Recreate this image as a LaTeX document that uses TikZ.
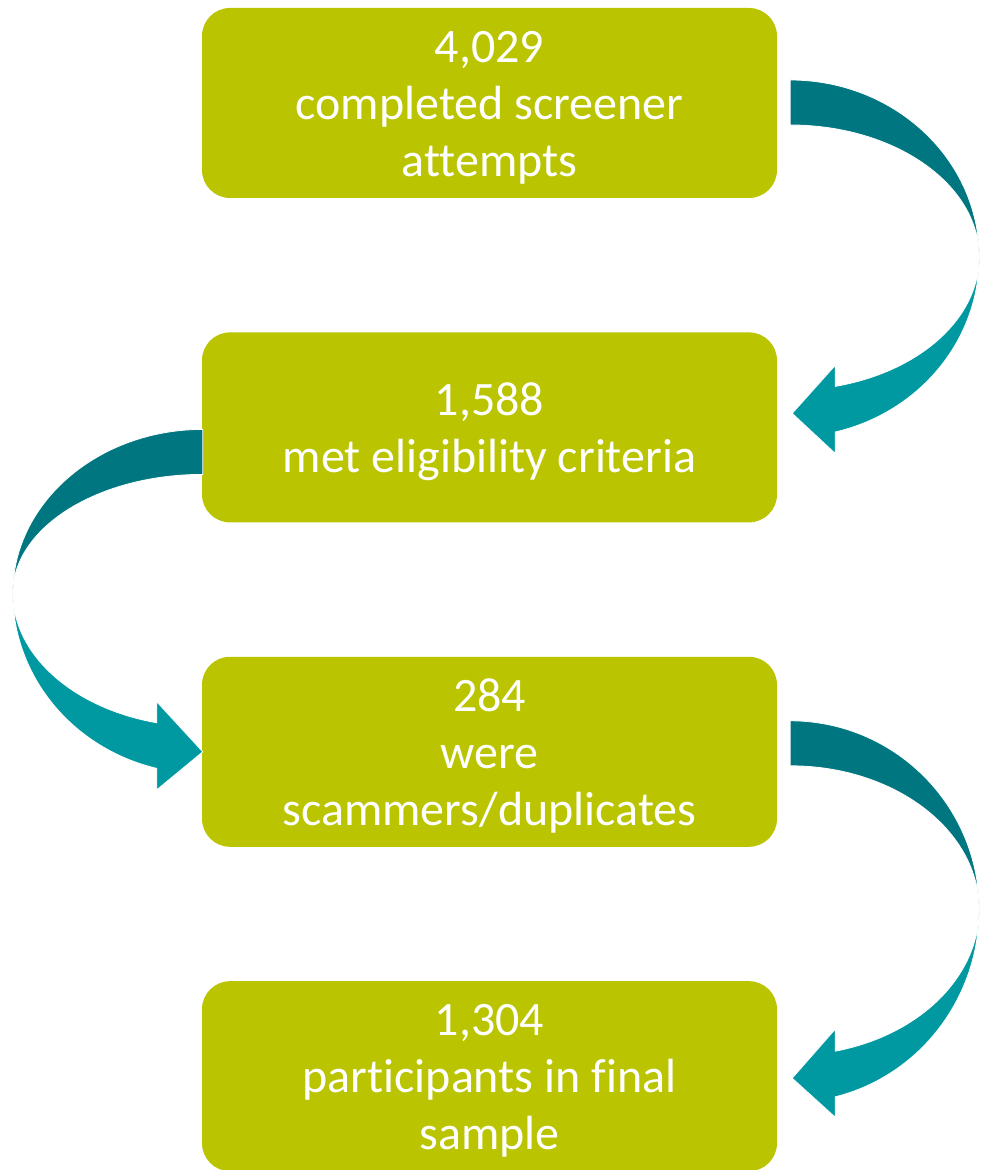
\documentclass[tikz,border=0pt]{standalone}
\usepackage{fontspec}
\setmainfont[Ligatures=NoCommon]{Carlito}
\usepackage{tikz}
\usetikzlibrary{positioning,calc}
\definecolor{boxolive}{RGB}{186,196,0}
\definecolor{tealdark}{RGB}{0,119,128}
\definecolor{teallight}{RGB}{0,153,161}
\tikzset{
  countbox/.style={rectangle,rounded corners=28pt,fill=boxolive,text=white,align=center,
    minimum width=575pt,minimum height=190pt,inner sep=0pt,font=\fontsize{48}{57}\selectfont},
  upperarr/.style={fill=tealdark,draw=white,line width=0.8pt},
  lowerarr/.style={fill=teallight,draw=white,line width=0.8pt}
}
\newcommand{\topgap}{\rule{0pt}{41pt}}

\begin{document}
\begin{tikzpicture}[node distance=134pt]
  \useasboundingbox (0,0) rectangle (982pt,1170pt);
  \node[countbox] (b1) at (489.5pt,1067pt) {\topgap 4,029\\completed screener\\attempts};
  \node[countbox,below=of b1] (b2) {\topgap 1,588\\met eligibility criteria};
  \node[countbox,below=of b2] (b3) {\topgap 284\\were\\scammers/duplicates};
  \node[countbox,below=of b3] (b4) {\topgap 1,304\\participants in final\\sample};
  % b1 -> b2
  \filldraw[upperarr] ($(b1.east)+(13pt,23pt)$) arc[start angle=90,end angle=0,x radius=189pt,y radius=177pt]
    arc[start angle=0,end angle=90,x radius=189pt,y radius=132pt] -- cycle;
  \filldraw[lowerarr] ($(b2.east)+(58pt,41pt)$) arc[start angle=-76.2,end angle=0,x radius=189pt,y radius=133pt]
    arc[start angle=0,end angle=-76.2,x radius=189pt,y radius=180pt] -- ($(b2.east)+(58pt,-26pt)$)
    -- ($(b2.east)+(15pt,14pt)$) -- ($(b2.east)+(58pt,62pt)$) -- cycle;
  % b2 -> b3
  \filldraw[upperarr] ($(b2.west)+(1pt,-2pt)$) arc[start angle=90,end angle=180,x radius=190pt,y radius=164pt]
    arc[start angle=180,end angle=90,x radius=190pt,y radius=119pt] -- cycle;
  \filldraw[lowerarr] ($(b3.west)+(-45pt,29pt)$) arc[start angle=256,end angle=180,x radius=190pt,y radius=134pt]
    arc[start angle=180,end angle=256,x radius=190pt,y radius=181pt] -- ($(b3.west)+(-45pt,-38pt)$)
    -- ($(b3.west)+(1pt,0pt)$) -- ($(b3.west)+(-45pt,50pt)$) -- cycle;
  % b3 -> b4
  \filldraw[upperarr] ($(b3.east)+(13pt,31pt)$) arc[start angle=90,end angle=0,x radius=189pt,y radius=189pt]
    arc[start angle=0,end angle=90,x radius=189pt,y radius=144pt] -- cycle;
  \filldraw[lowerarr] ($(b4.east)+(58pt,25pt)$) arc[start angle=-76.2,end angle=0,x radius=189pt,y radius=146pt]
    arc[start angle=0,end angle=-76.2,x radius=189pt,y radius=193pt] -- ($(b4.east)+(58pt,-41pt)$)
    -- ($(b4.east)+(15pt,-2pt)$) -- ($(b4.east)+(58pt,47pt)$) -- cycle;
\end{tikzpicture}
\end{document}
